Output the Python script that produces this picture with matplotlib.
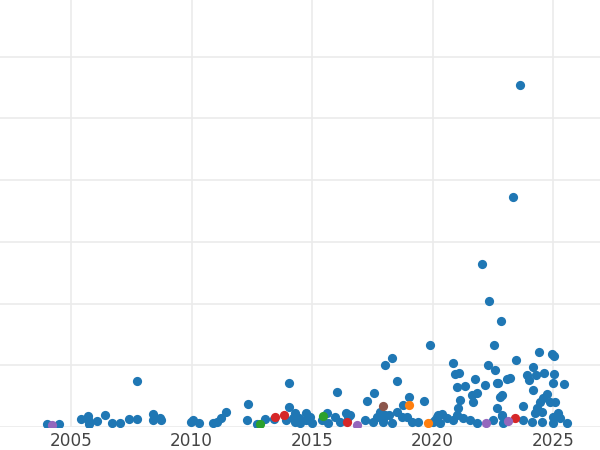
import matplotlib
matplotlib.use("Agg")
import matplotlib.pyplot as plt

# ---- data (year, value) per category ----
blue_x = [2004.00, 2004.50,
          2005.41, 2005.70, 2005.74, 2005.74, 2006.07, 2006.41, 2006.70, 2007.03, 2007.40,
          2007.73, 2007.73, 2008.40, 2008.40, 2008.69, 2008.73,
          2009.98, 2010.06, 2010.31, 2010.89, 2011.05, 2011.22, 2011.43,
          2012.34, 2012.30, 2012.71, 2013.05, 2013.42,
          2013.92, 2014.04, 2014.04, 2014.21, 2014.29, 2014.29, 2014.46, 2014.50, 2014.75,
          2014.75, 2014.91, 2015.00,
          2015.41, 2015.62, 2015.66, 2015.95, 2016.03, 2016.16, 2016.41, 2016.49, 2016.57,
          2017.20, 2017.28, 2017.53, 2017.57, 2017.69, 2017.82, 2017.94, 2018.03, 2018.32,
          2018.52, 2018.19, 2018.32, 2018.52, 2018.73, 2018.77, 2018.94, 2019.02, 2019.15,
          2019.39, 2019.64, 2019.89, 2020.10, 2020.22, 2017.94, 2018.03,
          2020.02, 2020.18, 2020.31, 2020.39, 2020.60, 2020.85, 2020.85, 2020.93, 2021.10,
          2021.01, 2021.26, 2021.55, 2021.84, 2021.34, 2021.01, 2021.76, 2021.64, 2021.84,
          2021.68, 2021.14, 2021.05, 2022.05, 2022.34, 2022.84, 2022.55, 2022.30, 2022.59,
          2022.17, 2022.67, 2022.71, 2022.80, 2022.67, 2022.88, 2022.51, 2023.09, 2023.21,
          2023.46, 2023.34, 2023.63, 2024.42, 2024.95, 2025.04, 2024.17, 2023.92, 2024.29,
          2024.62, 2024.00, 2025.04, 2025.00, 2025.45, 2024.17, 2022.88, 2024.75, 2024.58,
          2024.46, 2024.87, 2025.08, 2023.75, 2024.33, 2024.54, 2024.25, 2025.20, 2025.00,
          2025.29, 2025.58, 2023.75, 2024.12, 2024.54, 2025.00, 2022.92, 2022.88]
blue_y = [5, 5,
          13, 18, 5, 9, 9, 20, 6, 6, 13,
          74, 13, 21, 11, 15, 11,
          8, 11, 6, 6, 8, 15, 24,
          37, 11, 5, 13, 13,
          11, 71, 32, 15, 23, 8, 15, 6, 23,
          11, 16, 6,
          11, 23, 6, 16, 56, 8, 23, 16, 20,
          11, 42, 8, 55, 16, 24, 8, 100, 112,
          75, 20, 6, 24, 16, 36, 16, 49, 8,
          8, 42, 133, 11, 20, 13, 20,
          8, 16, 6, 21, 15, 11, 104, 86, 88,
          20, 15, 11, 6, 66, 65, 78, 52, 55,
          40, 44, 31, 264, 204, 172, 133, 100, 92,
          68, 71, 71, 49, 31, 20, 11, 78, 79,
          109, 372, 554, 122, 118, 115, 97, 84, 84,
          88, 76, 86, 71, 70, 60, 52, 54, 47,
          40, 40, 40, 34, 31, 24, 23, 23, 16,
          15, 6, 11, 8, 8, 6, 6, 18]

orange_x = [2019.02, 2019.81]
orange_y = [36, 6]
green_x = [2012.84, 2015.45]
green_y = [5, 18]
red_x = [2013.46, 2013.83, 2016.45, 2023.42]
red_y = [16, 20, 8, 15]
purple_x = [2004.21, 2016.86, 2022.22, 2023.12]
purple_y = [3, 3, 6, 10]
brown_x = [2017.94]
brown_y = [34]

series = [
    (blue_x, blue_y, "#1f77b4"),
    (orange_x, orange_y, "#ff7f0e"),
    (green_x, green_y, "#2ca02c"),
    (red_x, red_y, "#d62728"),
    (purple_x, purple_y, "#9467bd"),
    (brown_x, brown_y, "#8c564b"),
]

xticks = [2005, 2010, 2015, 2020, 2025]

fig = plt.figure(figsize=(6, 4.5), dpi=100)
ax = fig.add_axes([0, 23 / 450, 1, 427 / 450])

for xs, ys, c in series:
    ax.scatter(xs, ys, s=44, color=c, linewidths=0, zorder=3)

ax.set_xlim(2002.05, 2026.95)
ax.set_ylim(0, 692)
ax.set_xticks(xticks)
ax.set_xticklabels([str(t) for t in xticks])
ax.set_yticks(range(0, 700, 100))
ax.tick_params(axis="y", left=False, labelleft=False)
ax.tick_params(axis="x", length=0, pad=3.5, labelsize=12.2, labelcolor="#444444")
ax.grid(True, color="#ebebeb", linewidth=1.2, zorder=0)
ax.set_axisbelow(True)
for s in ax.spines.values():
    s.set_visible(False)

fig.savefig("out.png", dpi=100)
